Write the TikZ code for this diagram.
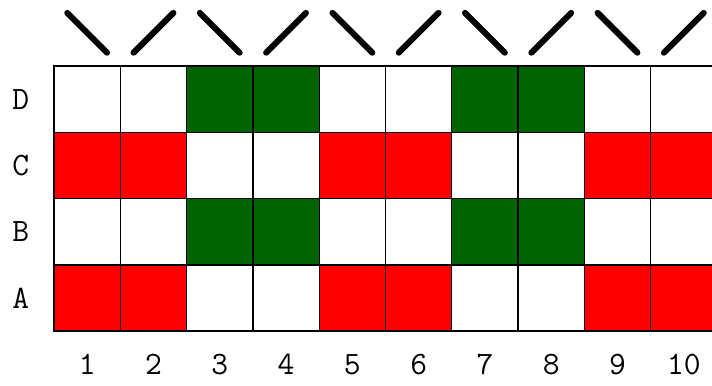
\documentclass[tikz,border=0pt]{standalone}
\definecolor{gr}{RGB}{0,100,0}
\begin{document}
\begin{tikzpicture}[x=1cm,y=1cm,
  cell/.style={draw=black,line width=0.6pt},
  lbl/.style={font=\fontsize{14}{16}\selectfont\ttfamily},
  stroke/.style={line width=2.6pt,line cap=round}]
\useasboundingbox (-0.815,-0.815) rectangle (9.925,4.995);
\clip (-0.815,-0.815) rectangle (9.925,4.995);
% rows: A=0, B=1, C=2, D=3
\foreach \r/\name in {0/A,1/B,2/C,3/D}{
  \node[lbl] (row\name) at (-0.5,\r+0.5) {\name};
}
\foreach \c in {1,...,10}{
  \node[lbl] (col\c) at (\c-0.5,-0.5) {\c};
}
% cells
\foreach \c in {1,...,10}{
  \pgfmathtruncatemacro{\m}{mod(\c-1,4)}
  \ifnum\m<2
    \def\fa{red}\def\fb{white}
  \else
    \def\fa{white}\def\fb{gr}
  \fi
  \filldraw[cell,fill=\fa] (\c-1,0) rectangle (\c,1);
  \filldraw[cell,fill=\fb] (\c-1,1) rectangle (\c,2);
  \filldraw[cell,fill=\fa] (\c-1,2) rectangle (\c,3);
  \filldraw[cell,fill=\fb] (\c-1,3) rectangle (\c,4);
}
% strokes on top
\foreach \c in {1,3,5,7,9}{
  \draw[stroke] (\c-0.8,4.8) -- (\c-0.2,4.2);
  \draw[stroke] (\c+0.2,4.2) -- (\c+0.8,4.8);
}
\end{tikzpicture}
\end{document}
